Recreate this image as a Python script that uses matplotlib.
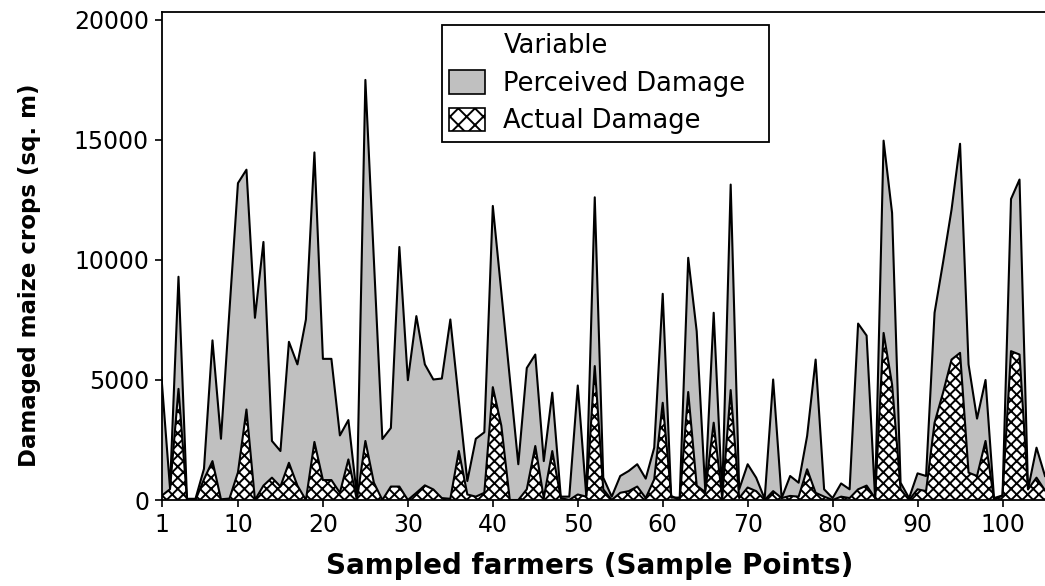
import matplotlib
matplotlib.use('Agg')
import matplotlib.pyplot as plt
from matplotlib.patches import Patch

samples = list(range(1, 106))

perceived = [5100, 500, 9300, 50, 50, 1300, 6650, 2550, 7900, 13200,
             13760, 7590, 10750, 2460, 2040, 6590, 5650, 7520, 14480, 5880,
             5880, 2690, 3330, 170, 17500, 10000, 2540, 3000, 10540, 4990,
             7660, 5650, 5020, 5060, 7520, 4150, 790, 2550, 2820, 12250,
             8670, 5080, 1490, 5500, 6060, 1620, 4470, 140, 140, 4770,
             190, 12610, 930, 140, 1000, 1210, 1490, 890, 2180, 8590,
             100, 100, 10090, 7030, 445, 7800, 170, 13140, 445, 1490,
             930, 50, 5020, 80, 1000, 720, 2670, 5850, 445, 80,
             690, 445, 7350, 6850, 80, 14970, 11960, 720, 80, 1110,
             1000, 7800, 9900, 12100, 14840, 5650, 3390, 5000, 80, 190,
             12540, 13350, 445, 2180, 1000]

actual = [170, 450, 4630, 0, 0, 860, 1620, 30, 60, 1150,
          3770, 0, 600, 930, 560, 1550, 600, 0, 2420, 830,
          830, 300, 1690, 0, 2460, 720, 0, 560, 560, 0,
          300, 610, 440, 80, 50, 2040, 230, 140, 300, 4700,
          3100, 0, 0, 445, 2250, 80, 2040, 80, 0, 230,
          140, 5580, 445, 0, 300, 370, 560, 80, 860, 4050,
          170, 0, 4500, 600, 330, 3220, 80, 4580, 80, 520,
          370, 0, 370, 80, 170, 140, 1280, 300, 140, 0,
          140, 80, 445, 600, 80, 6960, 4810, 445, 0, 445,
          370, 3220, 4470, 5850, 6130, 1140, 1000, 2460, 0, 190,
          6200, 6060, 445, 930, 400]

x_ticks = [1, 10, 20, 30, 40, 50, 60, 70, 80, 90, 100]
y_ticks = [0, 5000, 10000, 15000, 20000]

gray = '#c0c0c0'
plt.rcParams['font.family'] = ['DejaVu Sans']
plt.rcParams['hatch.linewidth'] = 1.4

fig = plt.figure(figsize=(10.45, 5.86), dpi=100)
ax = fig.add_axes([161.5 / 1045, 86 / 586, 1 - 161.5 / 1045, 488.5 / 586])

ax.fill_between(samples, perceived, 0, facecolor=gray, edgecolor='none', zorder=1)
ax.plot(samples, perceived, color='black', lw=1.5, zorder=3)
ax.fill_between(samples, actual, 0, facecolor='white', edgecolor='black',
                hatch='xxx', linewidth=0, zorder=2)
ax.plot(samples, actual, color='black', lw=1.5, zorder=3)

ax.set_xlim(1, 105)
ax.set_ylim(0, 20350)
ax.set_xticks(x_ticks)
ax.set_yticks(y_ticks)
ax.tick_params(direction='out', length=5, width=1.2, labelsize=17, pad=4)
for side in ['left', 'bottom', 'top']:
    ax.spines[side].set_linewidth(1.3)
ax.spines['right'].set_visible(False)

ax.set_xlabel('Sampled farmers (Sample Points)', fontsize=20, fontweight='bold', va='center')
ax.xaxis.set_label_coords(0.485, -0.135)
ax.set_ylabel('Damaged maize crops (sq. m)', fontsize=16.5, fontweight='bold', va='center')
ax.yaxis.set_label_coords(-0.149, 0.46)

handles = [Patch(facecolor='none', edgecolor='none'),
           Patch(facecolor=gray, edgecolor='black', linewidth=1.2),
           Patch(facecolor='white', edgecolor='black', hatch='xx', linewidth=1.2)]
labels = ['Variable', 'Perceived Damage', 'Actual Damage']
leg = ax.legend(handles, labels, loc='upper left', fontsize=18.5, mode='expand',
                bbox_to_anchor=(441.7 / 1045, (586 - 140) / 586, (769 - 441.7) / 1045, 115 / 586),
                bbox_transform=fig.transFigure,
                borderaxespad=0, fancybox=False, framealpha=1, edgecolor='black',
                handlelength=1.4, handleheight=1.05, handletextpad=0.7,
                labelspacing=0.42, borderpad=0.3)
leg.get_frame().set_linewidth(1.3)

fig.savefig('out.png', dpi=100)
